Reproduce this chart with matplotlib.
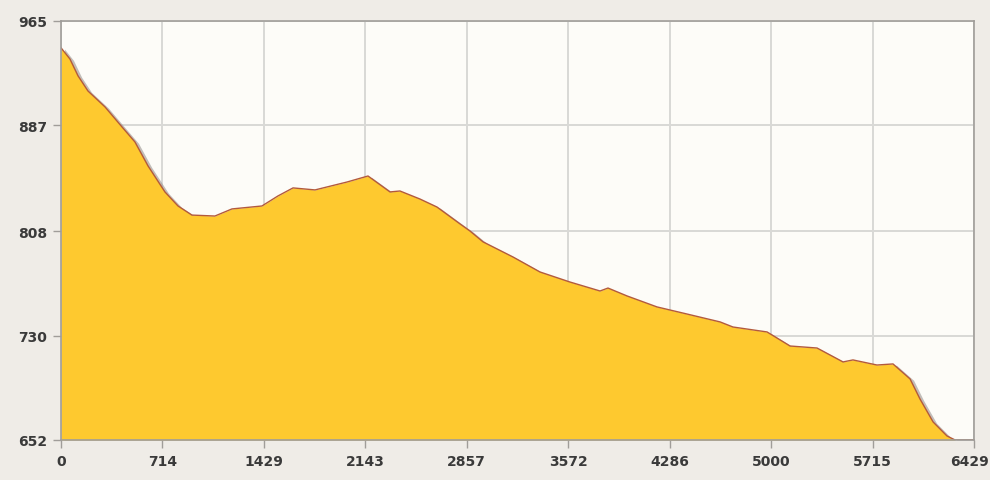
import matplotlib.pyplot as plt
import matplotlib.transforms as mtransforms

# profil d'altitude (distance en m, altitude en m)
distance = [0, 63, 120, 190, 310, 430, 521, 613, 732, 824, 922, 1084, 1204,
            1415, 1528, 1634, 1789, 2014, 2162, 2317, 2387, 2528, 2648, 2810,
            2880, 2972, 3183, 3373, 3584, 3796, 3852, 3986, 4197, 4408, 4641,
            4732, 4972, 5134, 5324, 5507, 5577, 5746, 5859, 5979, 6049, 6141,
            6239, 6296, 6429]
altitude = [945, 936.6, 924, 912.7, 900.8, 885.8, 874.6, 856.7, 837.3, 826.8,
            820, 819.3, 824.6, 826.8, 834.3, 840.3, 838.8, 844.7, 849.2, 837.3,
            838, 832, 826, 813.4, 808.1, 800, 788.7, 777.5, 770, 763.3, 765.5,
            759.6, 751.4, 746.1, 740.2, 736.4, 732.7, 722.2, 720.7, 710.3,
            711.8, 708, 708.8, 697.6, 682.6, 665.5, 655, 652, 652]

xticks = [0, 714, 1429, 2143, 2857, 3572, 4286, 5000, 5715, 6429]
yticks = [652, 730, 808, 887, 965]

fig = plt.figure(figsize=(9.9, 4.81), dpi=100, facecolor='#efece7')
ax = fig.add_axes([0.0616, 0.0832, 0.9222, 0.8711])
ax.set_facecolor('#fdfcf8')

# ombre grise a droite de la courbe
ax.fill_between([d + 25 for d in distance], [a - 1 for a in altitude], 652,
                color='#9a9490', alpha=0.6, lw=0, zorder=2)
ax.fill_between(distance, altitude, 652, color='#fec92f', lw=0, zorder=3)
ax.plot(distance, altitude, color='#b35a3c', lw=1.0, zorder=4)

ax.set_xlim(0, 6429)
ax.set_ylim(652, 965)
ax.set_xticks(xticks)
ax.set_yticks(yticks)
ax.grid(True, color='#d9d9d6', lw=1.4, zorder=1)
ax.set_axisbelow(True)

for s in ax.spines.values():
    s.set_color('#a09d99')
    s.set_linewidth(1.2)
    s.set_zorder(5)

ax.tick_params(direction='out', length=6, width=1, color='#a09d99',
               labelsize=10, labelcolor='#3a3a3a', pad=4)
for lab in ax.get_xticklabels() + ax.get_yticklabels():
    lab.set_fontweight('bold')

# le dernier label touche le bord droit
last = ax.get_xticklabels()[-1]
last.set_transform(last.get_transform() +
                   mtransforms.ScaledTranslation(-4 / 100, 0, fig.dpi_scale_trans))

fig.savefig('out.png', dpi=100, facecolor=fig.get_facecolor())
